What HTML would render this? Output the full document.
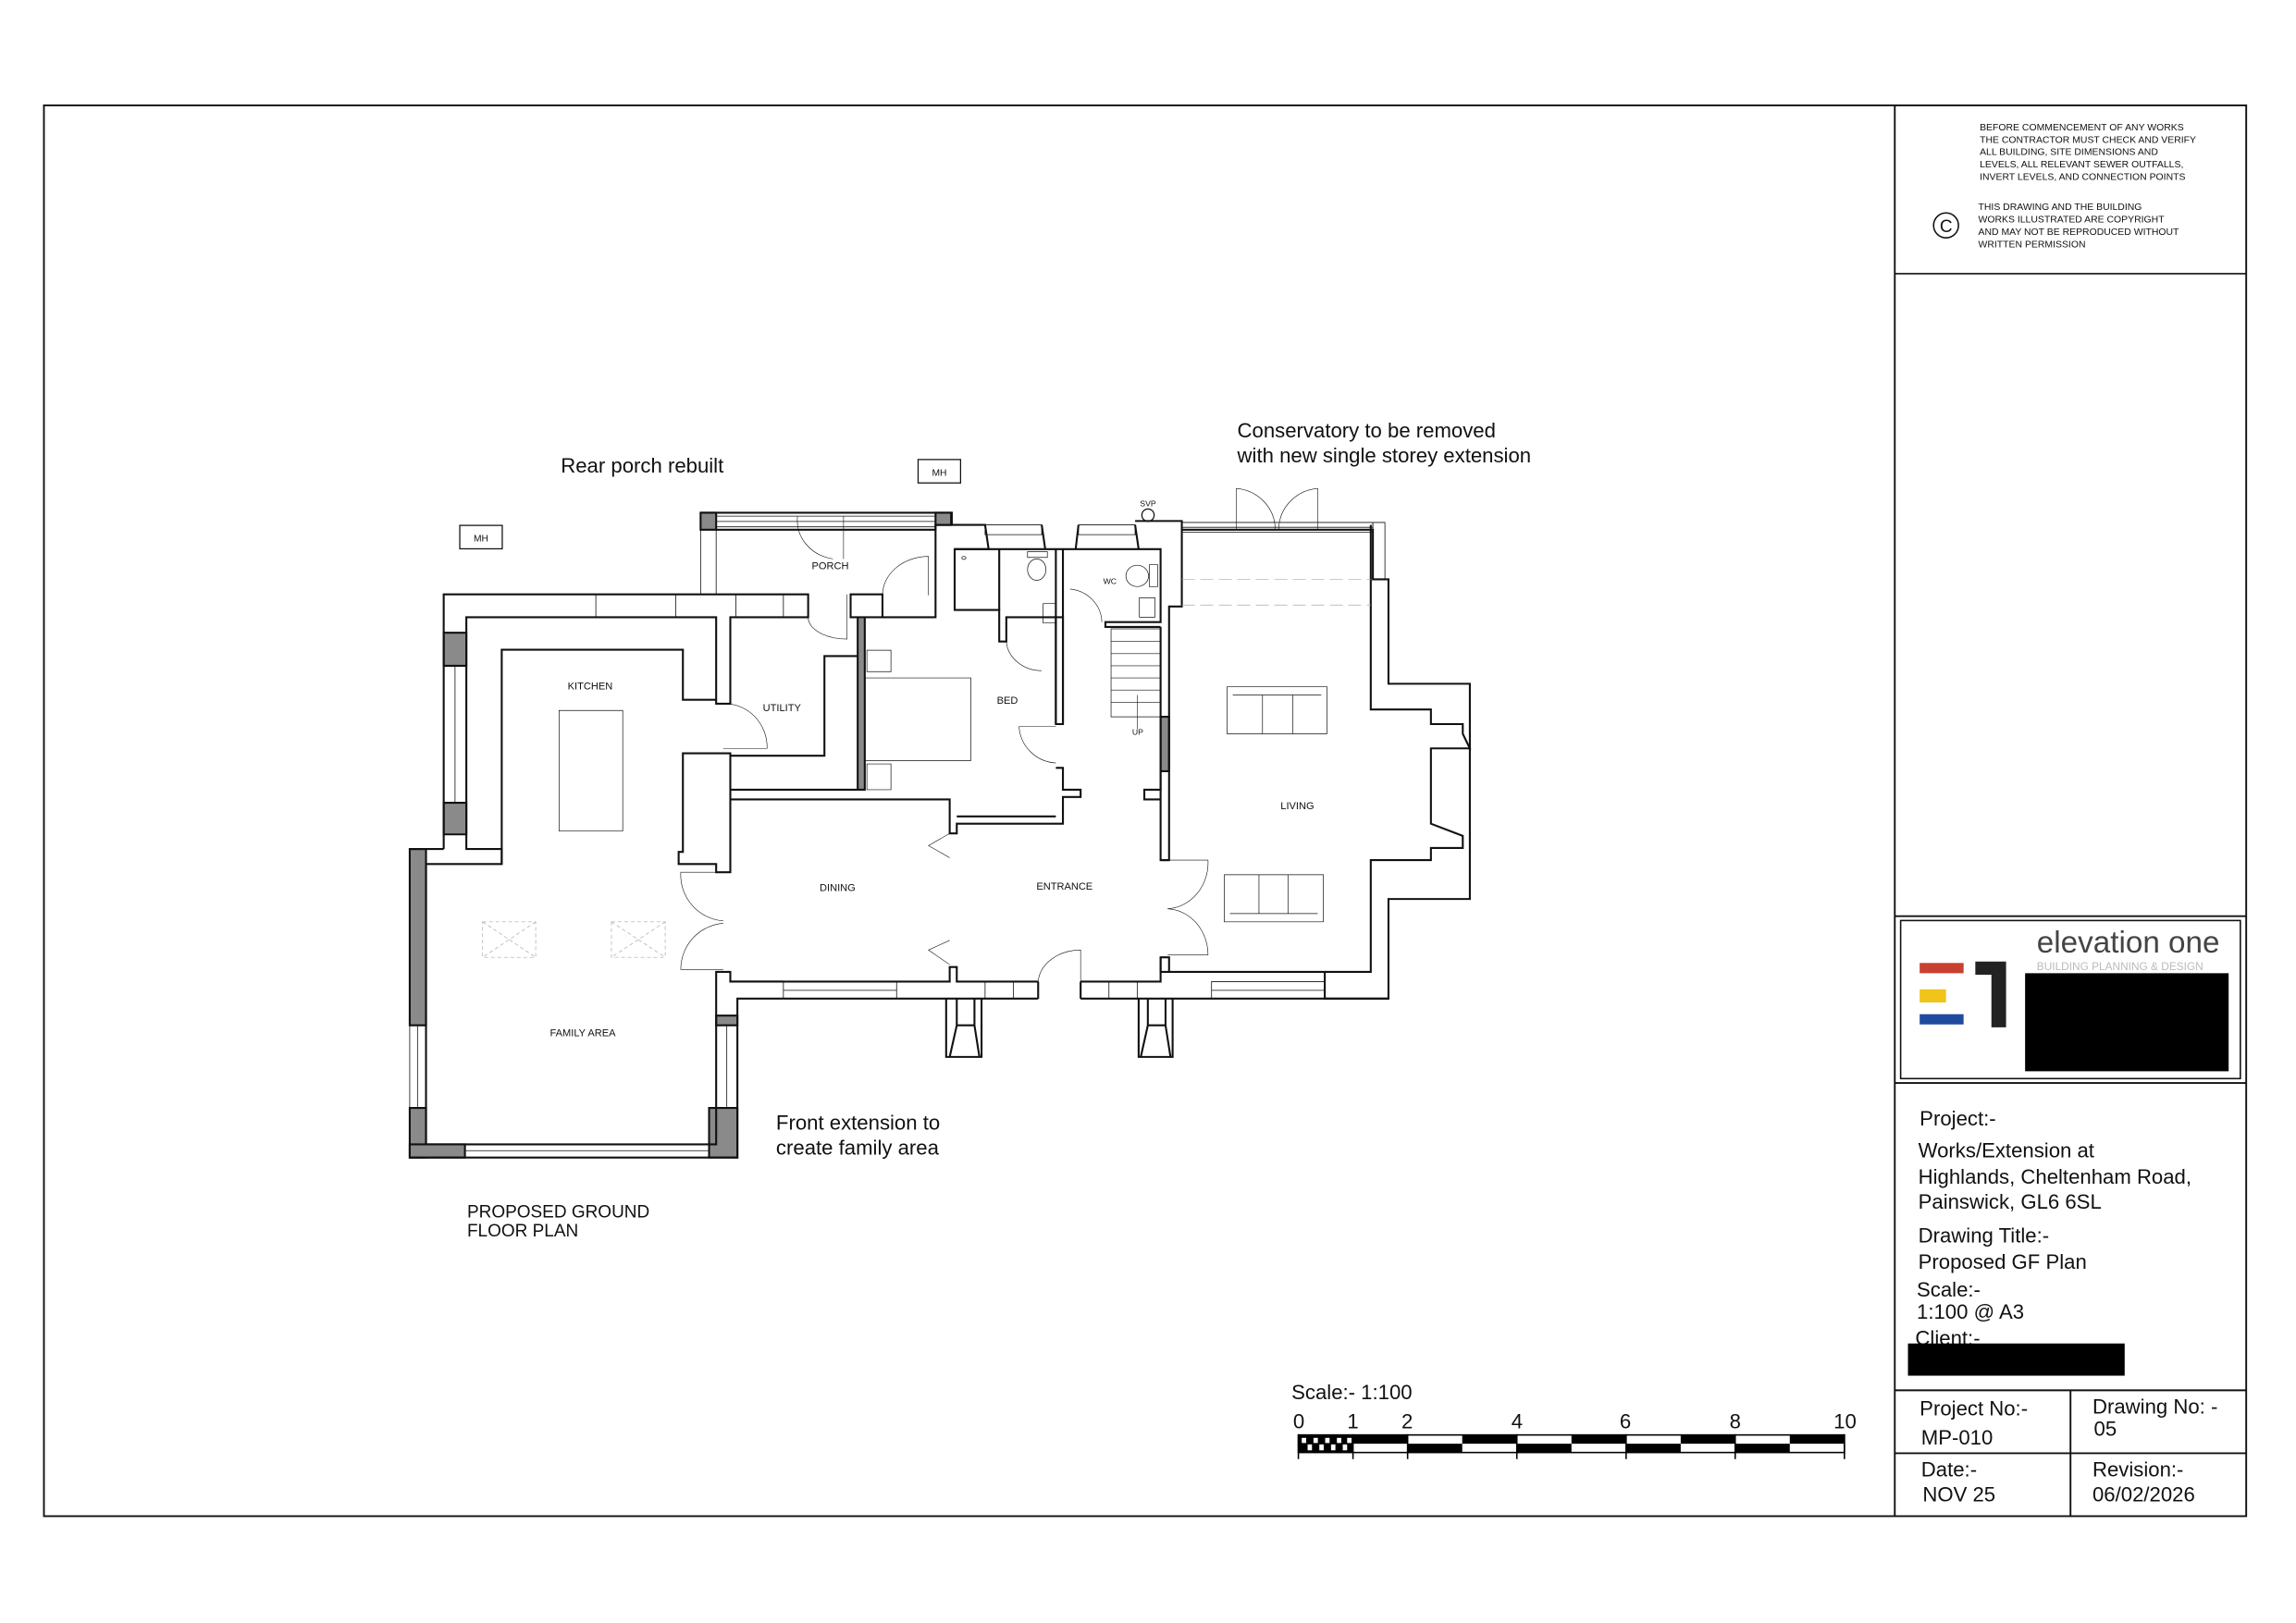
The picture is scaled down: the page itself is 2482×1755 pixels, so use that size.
<!DOCTYPE html>
<html><head><meta charset="utf-8"><style>
html,body{margin:0;padding:0;background:#fff;}
svg{display:block;}
text{font-family:"Liberation Sans",sans-serif;fill:#111;}
.p *{vector-effect:non-scaling-stroke;}
</style></head><body>
<svg width="2482" height="1755" viewBox="0 0 1568 1109" preserveAspectRatio="none" xmlns="http://www.w3.org/2000/svg">
<rect x="0" y="0" width="1568" height="1109" fill="#fff"/>
<rect x="30" y="72" width="1504" height="964" fill="none" stroke="#111" stroke-width="1.2"/>
<line x1="1294" y1="72" x2="1294" y2="1036" stroke="#111" stroke-width="1.2"/>
<line x1="1294" y1="187" x2="1534" y2="187" stroke="#111" stroke-width="1"/>
<line x1="1294" y1="626" x2="1534" y2="626" stroke="#111" stroke-width="1.2"/>
<rect x="1298" y="629" width="232" height="108" fill="none" stroke="#111" stroke-width="1"/>
<line x1="1294" y1="740" x2="1534" y2="740" stroke="#111" stroke-width="1.2"/>
<line x1="1294" y1="950" x2="1534" y2="950" stroke="#111" stroke-width="1.2"/>
<line x1="1294" y1="993" x2="1534" y2="993" stroke="#111" stroke-width="1.2"/>
<line x1="1414" y1="950" x2="1414" y2="1036" stroke="#111" stroke-width="1.2"/>

<g font-size="6.6">
<text x="1352" y="89">BEFORE COMMENCEMENT OF ANY WORKS</text>
<text x="1352" y="97.5">THE CONTRACTOR MUST CHECK AND VERIFY</text>
<text x="1352" y="106">ALL BUILDING, SITE DIMENSIONS AND</text>
<text x="1352" y="114.5">LEVELS, ALL RELEVANT SEWER OUTFALLS,</text>
<text x="1352" y="123">INVERT LEVELS, AND CONNECTION POINTS</text>
<text x="1351" y="143.5">THIS DRAWING AND THE BUILDING</text>
<text x="1351" y="152">WORKS ILLUSTRATED ARE COPYRIGHT</text>
<text x="1351" y="160.5">AND MAY NOT BE REPRODUCED WITHOUT</text>
<text x="1351" y="169">WRITTEN PERMISSION</text>
</g>
<circle cx="1329" cy="154" r="8.5" fill="none" stroke="#111" stroke-width="1"/>
<text x="1329" y="158.5" font-size="12" text-anchor="middle">C</text>

<text x="1391" y="651" font-size="21" style="fill:#444">elevation one</text>
<text x="1391" y="663" font-size="7.5" style="fill:#bbb">BUILDING PLANNING &amp; DESIGN</text>
<rect x="1311" y="658" width="30" height="7" fill="#c8402f"/>
<rect x="1311" y="676" width="18" height="9" fill="#f0c419"/>
<rect x="1311" y="693" width="30" height="7" fill="#1f4aa0"/>
<path d="M1349 657 H1370 V702 H1360 V666 H1349 Z" fill="#222"/>
<rect x="1383" y="665" width="139" height="67" fill="#000"/>

<g font-size="14">
<text x="1311" y="769">Project:-</text>
<text x="1310" y="791">Works/Extension at</text>
<text x="1310" y="809">Highlands, Cheltenham Road,</text>
<text x="1310" y="826">Painswick, GL6 6SL</text>
<text x="1310" y="849">Drawing Title:-</text>
<text x="1310" y="867">Proposed GF Plan</text>
<text x="1309" y="886">Scale:-</text>
<text x="1309" y="901">1:100 @ A3</text>
<text x="1308" y="919">Client:-</text>
</g>
<rect x="1303" y="918" width="148" height="22" fill="#000"/>
<g font-size="14">
<text x="1311" y="967">Project No:-</text>
<text x="1312" y="987">MP-010</text>
<text x="1429" y="966">Drawing No: -</text>
<text x="1430" y="981">05</text>
<text x="1312" y="1009">Date:-</text>
<text x="1313" y="1026">NOV 25</text>
<text x="1429" y="1009">Revision:-</text>
<text x="1429" y="1026">06/02/2026</text>
</g>

<text x="882" y="956" font-size="14">Scale:- 1:100</text>
<g font-size="14" text-anchor="middle">
<text x="887" y="976">0</text><text x="924" y="976">1</text><text x="961" y="976">2</text>
<text x="1036" y="976">4</text><text x="1110" y="976">6</text><text x="1185" y="976">8</text><text x="1260" y="976">10</text>
</g>
<g>
<rect x="886.7" y="980.5" width="372.9" height="12" fill="#fff" stroke="#000" stroke-width="1"/>
<g fill="#000">
<rect x="886.7" y="980.5" width="37.3" height="12" fill="#000"/>
<rect x="889" y="982.5" width="3" height="3.5" fill="#fff"/><rect x="897" y="982.5" width="3" height="3.5" fill="#fff"/><rect x="905" y="982.5" width="3" height="3.5" fill="#fff"/><rect x="913" y="982.5" width="3" height="3.5" fill="#fff"/><rect x="920" y="982.5" width="3" height="3.5" fill="#fff"/>
<rect x="893" y="987" width="3" height="4" fill="#fff"/><rect x="901" y="987" width="3" height="4" fill="#fff"/><rect x="909" y="987" width="3" height="4" fill="#fff"/><rect x="917" y="987" width="3" height="4" fill="#fff"/>
<rect x="924" y="980.5" width="37.3" height="6"/>
<rect x="998.6" y="980.5" width="37.3" height="6"/>
<rect x="1073.2" y="980.5" width="37.3" height="6"/>
<rect x="1147.8" y="980.5" width="37.3" height="6"/>
<rect x="1222.3" y="980.5" width="37.3" height="6"/>
<rect x="961.3" y="986.5" width="37.3" height="6"/>
<rect x="1035.9" y="986.5" width="37.3" height="6"/>
<rect x="1110.5" y="986.5" width="37.3" height="6"/>
<rect x="1185" y="986.5" width="37.3" height="6"/>
</g>
<g stroke="#000" stroke-width="1">
<line x1="886.7" y1="980" x2="886.7" y2="997"/><line x1="924" y1="980" x2="924" y2="997"/><line x1="961.3" y1="980" x2="961.3" y2="997"/><line x1="1035.9" y1="980" x2="1035.9" y2="997"/><line x1="1110.5" y1="980" x2="1110.5" y2="997"/><line x1="1185" y1="980" x2="1185" y2="997"/><line x1="1259.6" y1="980" x2="1259.6" y2="997"/>
</g>
</g>

<g font-size="14">
<text x="383" y="323">Rear porch rebuilt</text>
<text x="845" y="299">Conservatory to be removed</text>
<text x="845" y="316">with new single storey extension</text>
<text x="530" y="772">Front extension to</text>
<text x="530" y="789">create family area</text>
</g>
<g font-size="12">
<text x="319" y="832">PROPOSED GROUND</text>
<text x="319" y="845">FLOOR PLAN</text>
</g>
<rect x="314" y="359" width="29" height="16" fill="none" stroke="#111" stroke-width="0.8"/>
<text x="328.5" y="370" font-size="6.5" text-anchor="middle">MH</text>
<rect x="627" y="314" width="29" height="16" fill="none" stroke="#111" stroke-width="0.8"/>
<text x="641.5" y="325" font-size="6.5" text-anchor="middle">MH</text>
<circle cx="784" cy="352" r="4.2" fill="none" stroke="#111" stroke-width="0.8"/>
<text x="784" y="346" font-size="5.5" text-anchor="middle">SVP</text>

<g class="p" transform="translate(271.6,282.3) scale(0.4833,0.332)" fill="none" stroke="#111" stroke-width="2.1">
<g fill="#8a8a8a" stroke="#111">
<rect x="17" y="897" width="23" height="363"/>
<rect x="17" y="1430" width="23" height="102"/>
<rect x="17" y="1505" width="78" height="27"/>
<rect x="440" y="1430" width="40" height="102"/>
<rect x="450" y="1240" width="30" height="20"/>
<rect x="65" y="452" width="32" height="68"/>
<rect x="65" y="802" width="32" height="65"/>
<rect x="428" y="205" width="22" height="35"/>
<rect x="760" y="205" width="22" height="25"/>
<rect x="650" y="420" width="10" height="355"/>
<rect x="1078" y="625" width="12" height="112"/>
</g>
<g stroke-width="0.8">
<rect x="450" y="212" width="310" height="22"/>
<line x1="450" y1="223" x2="760" y2="223"/>
<rect x="428" y="240" width="22" height="133"/>
<rect x="17" y="1260" width="23" height="170"/>
<line x1="28" y1="1260" x2="28" y2="1430"/>
<rect x="95" y="1505" width="345" height="27"/>
<line x1="95" y1="1518" x2="440" y2="1518"/>
<rect x="450" y="1260" width="30" height="170"/>
<line x1="465" y1="1260" x2="465" y2="1430"/>
<rect x="65" y="520" width="32" height="282"/>
<line x1="81" y1="520" x2="81" y2="802"/>
<rect x="280" y="373" width="113" height="47"/>
<rect x="478" y="373" width="67" height="47"/>
<rect x="830" y="230" width="80" height="20"/>
<rect x="962" y="230" width="80" height="20"/>
<rect x="1108" y="225" width="270" height="20"/>
<line x1="1108" y1="235" x2="1378" y2="235"/>
<rect x="1378" y="225" width="17" height="117"/>
<rect x="545" y="1170" width="160" height="35"/>
<line x1="545" y1="1188" x2="705" y2="1188"/>
<rect x="830" y="1170" width="40" height="35"/>
<rect x="1005" y="1170" width="40" height="35"/>
<rect x="1150" y="1170" width="160" height="35"/>
<line x1="1150" y1="1188" x2="1310" y2="1188"/>
</g>
<path d="M65,897 V373 H580 V420 H470 V598 H450 V420 H97 V897 H147 V928 H40 V1505 H450 V1150 H470 V1170 H545"/>
<path d="M17,897 H65"/>
<path d="M17,1532 H480 V1205 H545"/>
<path d="M147,928 V487 H403 V590 H450"/>
<path d="M450,700 H403 V903 H397 V928 H450 V945 H470 V700 H450"/>
<path d="M470,705 H603 V500 H650"/>
<path d="M470,775 H650"/>
<path d="M470,795 H780 V865 H790 V845 H940 V790 H965 V775 H940 V730 H930"/>
<path d="M790,830 H930"/>
<path d="M428,205 H783 V230 H760 V240 H450"/>
<path d="M640,373 H685 V420 H640 Z" fill="#fff"/>
<path d="M760,230 V420 H685"/>
<path d="M760,230 H830 L835,280 H787 V405 H850 V470 H860 V420 H940 V640 H930 V420"/>
<path d="M787,280 H1078 V430 H1000 V440 H1078"/>
<path d="M910,230 L915,280 M962,230 L958,280 M1042,230 L1047,280"/>
<path d="M1042,222 H1108 V398 H1090 V920 H1078 V440"/>
<path d="M850,280 V405"/>
<path d="M930,280 V640"/>
<path d="M940,280 V640"/>
<rect x="1008" y="444" width="70" height="181" stroke-width="0.7"/>
<g stroke-width="0.6">
<line x1="1008" y1="470" x2="1078" y2="470"/><line x1="1008" y1="495" x2="1078" y2="495"/><line x1="1008" y1="520" x2="1078" y2="520"/><line x1="1008" y1="545" x2="1078" y2="545"/><line x1="1008" y1="570" x2="1078" y2="570"/><line x1="1008" y1="595" x2="1078" y2="595"/>
<line x1="1045" y1="650" x2="1045" y2="580"/>
</g>
<path d="M1108,240 H1378 V342 H1400 V557 H1515 V1000 H1400 V1205 H1310 V1150 H1090 V1120 H1078 V1150 H1150"/>
<path d="M1375,342 V230"/>
<path d="M1375,342 V610 H1460 V640 H1505 V660 L1515,690 H1460 V845 L1505,870 V895 H1460 V920 H1375 V1150 H1310"/>
<path d="M1078,920 H1090"/>
<path d="M1078,737 V775 H1055 V795 H1078"/>
<path d="M470,1170 H780 V1140 H790 V1170 H905 M965,1170 H1078 V1120"/>
<path d="M545,1205 H905 M965,1205 H1400"/>
<path d="M905,1170 V1205 M965,1170 V1205"/>
<path d="M775,1205 V1325 H825 V1205 M790,1205 V1260 L780,1325 M815,1205 V1260 L822,1325 M790,1260 H815"/>
<path d="M1047,1205 V1325 H1095 V1205 M1060,1205 V1260 L1050,1325 M1085,1205 V1260 L1092,1325 M1060,1260 H1085"/>
<g stroke-width="0.7">
<rect x="228" y="612" width="90" height="248"/>
<rect x="1172" y="563" width="141" height="97"/>
<line x1="1180" y1="580" x2="1305" y2="580"/><line x1="1222" y1="580" x2="1222" y2="660"/><line x1="1265" y1="580" x2="1265" y2="660"/>
<rect x="1168" y="950" width="140" height="97"/>
<line x1="1176" y1="1030" x2="1300" y2="1030"/><line x1="1217" y1="950" x2="1217" y2="1030"/><line x1="1258" y1="950" x2="1258" y2="1030"/>
<rect x="660" y="545" width="150" height="170"/>
<rect x="663" y="488" width="34" height="44"/><rect x="663" y="722" width="34" height="53"/>
<rect x="890" y="285" width="28" height="12"/><ellipse cx="903" cy="322" rx="13" ry="22"/>
<ellipse cx="1045" cy="335" rx="16" ry="22"/><rect x="1062" y="312" width="12" height="45"/>
<rect x="1048" y="380" width="22" height="40"/><rect x="912" y="392" width="18" height="40"/>
<circle cx="800" cy="298" r="3"/>
</g>
<g stroke="#aaa" stroke-width="0.7" stroke-dasharray="4,3">
<rect x="120" y="1047" width="75" height="73"/><path d="M120,1047 L195,1120 M195,1047 L120,1120"/>
<rect x="302" y="1047" width="76" height="73"/><path d="M302,1047 L378,1120 M378,1047 L302,1120"/>
<path d="M1108,342 H1375 M1108,395 H1375" stroke-dasharray="14,6"/>
</g>
<g stroke-width="0.6">
<path d="M1185,240 V155 A60,85 0 0 1 1240,240 M1300,240 V155 A60,85 0 0 0 1245,240"/>
<path d="M460,598 A60,90 0 0 1 522,690 H460"/>
<path d="M580,420 A55,45 0 0 0 635,465 V373"/>
<path d="M685,375 A65,80 0 0 1 750,295 V375"/>
<path d="M910,530 A50,65 0 0 1 860,470"/>
<path d="M930,720 A55,80 0 0 1 878,645 H930"/>
<path d="M950,362 A50,70 0 0 1 995,430"/>
<path d="M460,945 H400 A65,95 0 0 0 460,1045"/>
<path d="M460,1050 A65,95 0 0 0 400,1145 H460"/>
<path d="M1088,920 H1145 A60,95 0 0 1 1088,1020"/>
<path d="M1088,1020 A60,95 0 0 1 1145,1115 H1088"/>
<path d="M780,865 L750,890 L780,915 M780,1085 L750,1105 L780,1135"/>
<path d="M905,1170 A60,70 0 0 1 965,1105 V1170"/>
<path d="M565,212 A60,80 0 0 0 615,300 M630,212 V300"/>
</g>
</g>

<g font-size="7" text-anchor="middle">
<text x="403" y="471">KITCHEN</text>
<text x="534" y="486">UTILITY</text>
<text x="567" y="389">PORCH</text>
<text x="688" y="481">BED</text>
<text x="758" y="399" font-size="5.5">WC</text>
<text x="777" y="502" font-size="5.5">UP</text>
<text x="886" y="553">LIVING</text>
<text x="572" y="609">DINING</text>
<text x="727" y="608">ENTRANCE</text>
<text x="398" y="708">FAMILY AREA</text>
</g>
</svg>
</body></html>
